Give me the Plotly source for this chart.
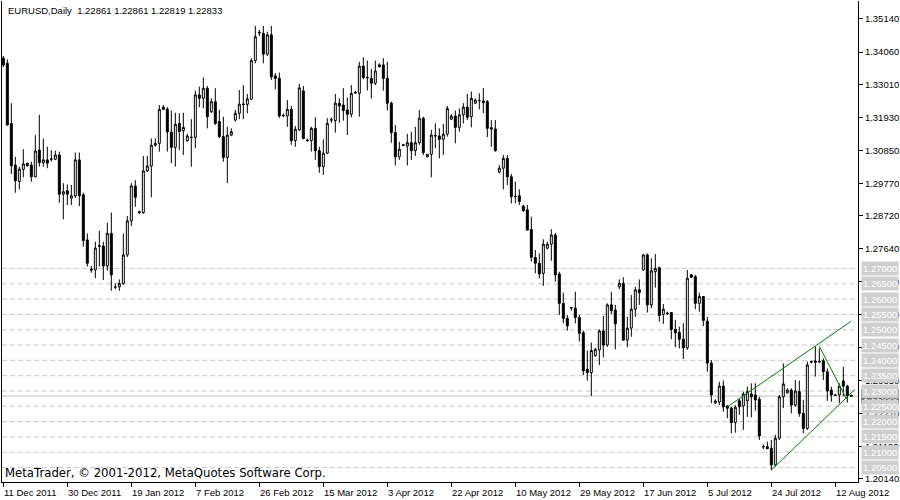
import pandas as pd
import plotly.graph_objects as go

# ---------------- data ----------------
header_text = "EURUSD,Daily  1.22861 1.22861 1.22819 1.22833"
copyright_text = "MetaTrader, \u00a9 2001-2012, MetaQuotes Software Corp."

first_day = "2011-12-11"
last_day = "2012-08-16"
closed_days = ["2011-12-25", "2012-01-01"]   # no bars on these days (Saturdays also absent)

open_ = [
    1.3386, 1.3369, 1.3173, 1.3037, 1.2983, 1.3023, 1.3043, 1.3037, 1.2999, 1.3086,
    1.3045, 1.3054, 1.3056, 1.3056, 1.3070, 1.2942, 1.2953, 1.2929, 1.2937, 1.3054,
    1.2940, 1.2793, 1.2697, 1.2695, 1.2772, 1.2773, 1.2708, 1.2814, 1.2638, 1.2640,
    1.2651, 1.2744, 1.2855, 1.2969, 1.2885, 1.2882, 1.3018, 1.3034, 1.3102, 1.3108,
    1.3226, 1.3219, 1.3145, 1.3095, 1.3173, 1.3149, 1.3117, 1.3128, 1.3128, 1.3266,
    1.3255, 1.3288, 1.3211, 1.3244, 1.3179, 1.3130, 1.3062, 1.3135, 1.3184, 1.3206,
    1.3236, 1.3235, 1.3252, 1.3378, 1.3468, 1.3467, 1.3399, 1.3462, 1.3328, 1.3320,
    1.3198, 1.3197, 1.3219, 1.3117, 1.3152, 1.3279, 1.3117, 1.3117, 1.3157, 1.3084,
    1.3032, 1.3076, 1.3184, 1.3182, 1.3239, 1.3233, 1.3217, 1.3203, 1.3272, 1.3271,
    1.3360, 1.3323, 1.3320, 1.3304, 1.3364, 1.3364, 1.3320, 1.3239, 1.3143, 1.3064,
    1.3103, 1.3099, 1.3110, 1.3084, 1.3110, 1.3190, 1.3064, 1.3072, 1.3132, 1.3132,
    1.3121, 1.3138, 1.3187, 1.3197, 1.3160, 1.3201, 1.3226, 1.3195, 1.3239, 1.3247,
    1.3246, 1.3244, 1.3159, 1.3155, 1.3014, 1.3027, 1.3059, 1.2999, 1.2934, 1.2937,
    1.2903, 1.2891, 1.2827, 1.2736, 1.2717, 1.2684, 1.2766, 1.2779, 1.2809, 1.2682,
    1.2586, 1.2537, 1.2572, 1.2570, 1.2540, 1.2490, 1.2371, 1.2360, 1.2415, 1.2434,
    1.2496, 1.2450, 1.2581, 1.2564, 1.2640, 1.2651, 1.2466, 1.2505, 1.2567, 1.2630,
    1.2695, 1.2744, 1.2581, 1.2689, 1.2702, 1.2550, 1.2554, 1.2556, 1.2501, 1.2491,
    1.2469, 1.2441, 1.2679, 1.2673, 1.2586, 1.2608, 1.2528, 1.2391, 1.2261, 1.2264,
    1.2316, 1.2251, 1.2244, 1.2197, 1.2268, 1.2251, 1.2268, 1.2290, 1.2287, 1.2273,
    1.2119, 1.2118, 1.2113, 1.2059, 1.2146, 1.2281, 1.2294, 1.2303, 1.2254, 1.2298,
    1.2227, 1.2178, 1.2396, 1.2398, 1.2396, 1.2399, 1.2363, 1.2303, 1.2287, 1.2287,
    1.2333, 1.2316, 1.22861,
]
high = [
    1.3393, 1.3382, 1.3239, 1.3064, 1.3032, 1.3089, 1.3045, 1.3048, 1.3135, 1.3201,
    1.3124, 1.3097, 1.3086, 1.3084, 1.3081, 1.2978, 1.2974, 1.2972, 1.3078, 1.3078,
    1.2947, 1.2814, 1.2708, 1.2787, 1.2823, 1.2787, 1.2849, 1.2882, 1.2651, 1.2664,
    1.2814, 1.2871, 1.2978, 1.2988, 1.2888, 1.3067, 1.3067, 1.3124, 1.3124, 1.3233,
    1.3233, 1.3226, 1.3215, 1.3208, 1.3206, 1.3208, 1.3139, 1.3187, 1.3280, 1.3293,
    1.3323, 1.3295, 1.3255, 1.3288, 1.3217, 1.3195, 1.3162, 1.3157, 1.3217, 1.3282,
    1.3298, 1.3269, 1.3386, 1.3491, 1.3478, 1.3491, 1.3472, 1.3491, 1.3337, 1.3339,
    1.3206, 1.3249, 1.3230, 1.3165, 1.3302, 1.3295, 1.3124, 1.3162, 1.3193, 1.3097,
    1.3121, 1.3190, 1.3193, 1.3269, 1.3255, 1.3288, 1.3258, 1.3298, 1.3280, 1.3374,
    1.3389, 1.3378, 1.3350, 1.3378, 1.3369, 1.3386, 1.3374, 1.3244, 1.3168, 1.3113,
    1.3106, 1.3139, 1.3146, 1.3162, 1.3217, 1.3195, 1.3074, 1.3152, 1.3173, 1.3157,
    1.3171, 1.3230, 1.3204, 1.3215, 1.3222, 1.3239, 1.3269, 1.3277, 1.3254, 1.3271,
    1.3288, 1.3249, 1.3184, 1.3184, 1.3037, 1.3070, 1.3070, 1.3008, 1.2983, 1.2958,
    1.2907, 1.2907, 1.2869, 1.2760, 1.2749, 1.2795, 1.2787, 1.2828, 1.2816, 1.2689,
    1.2621, 1.2548, 1.2573, 1.2624, 1.2548, 1.2497, 1.2432, 1.2458, 1.2441, 1.2501,
    1.2545, 1.2586, 1.2624, 1.2581, 1.2664, 1.2671, 1.2542, 1.2613, 1.2640, 1.2664,
    1.2747, 1.2749, 1.2733, 1.2747, 1.2706, 1.2584, 1.2559, 1.2557, 1.2532, 1.2510,
    1.2521, 1.2695, 1.2681, 1.2679, 1.2621, 1.2610, 1.2542, 1.2401, 1.2273, 1.2330,
    1.2334, 1.2254, 1.2249, 1.2254, 1.2276, 1.2298, 1.2314, 1.2325, 1.2325, 1.2281,
    1.2126, 1.2135, 1.2140, 1.2157, 1.2287, 1.2390, 1.2309, 1.2309, 1.2336, 1.2334,
    1.2271, 1.2396, 1.2399, 1.2445, 1.2439, 1.2407, 1.2374, 1.2314, 1.2291, 1.2325,
    1.2379, 1.2320, 1.22861,
]
low = [
    1.3357, 1.3165, 1.3008, 1.2947, 1.2958, 1.2997, 1.3032, 1.2983, 1.2997, 1.3032,
    1.3032, 1.3027, 1.3048, 1.3054, 1.2914, 1.2860, 1.2907, 1.2907, 1.2930, 1.2903,
    1.2771, 1.2706, 1.2686, 1.2668, 1.2706, 1.2662, 1.2693, 1.2627, 1.2632, 1.2627,
    1.2646, 1.2737, 1.2838, 1.2901, 1.2877, 1.2878, 1.3015, 1.2932, 1.3097, 1.3081,
    1.3217, 1.3081, 1.3043, 1.3032, 1.3086, 1.3070, 1.3113, 1.3032, 1.3092, 1.3226,
    1.3222, 1.3157, 1.3207, 1.3168, 1.3125, 1.3048, 1.2978, 1.3132, 1.3179, 1.3187,
    1.3187, 1.3206, 1.3249, 1.3369, 1.3458, 1.3369, 1.3393, 1.3315, 1.3284, 1.3191,
    1.3193, 1.3162, 1.3103, 1.3097, 1.3148, 1.3121, 1.3113, 1.3081, 1.3054, 1.3012,
    1.3005, 1.3073, 1.3175, 1.3143, 1.3175, 1.3182, 1.3135, 1.3193, 1.3269, 1.3195,
    1.3317, 1.3280, 1.3254, 1.3298, 1.3356, 1.3280, 1.3215, 1.3110, 1.3036, 1.3054,
    1.3099, 1.3036, 1.3054, 1.3067, 1.3103, 1.3070, 1.3062, 1.2997, 1.3092, 1.3059,
    1.3070, 1.3130, 1.3184, 1.3108, 1.3146, 1.3173, 1.3184, 1.3160, 1.3237, 1.3219,
    1.3206, 1.3128, 1.3097, 1.3081, 1.3010, 1.2958, 1.2972, 1.2912, 1.2912, 1.2907,
    1.2885, 1.2823, 1.2722, 1.2684, 1.2668, 1.2643, 1.2762, 1.2725, 1.2657, 1.2548,
    1.2521, 1.2497, 1.2562, 1.2521, 1.2461, 1.2352, 1.2334, 1.2284, 1.2412, 1.2385,
    1.2410, 1.2444, 1.2551, 1.2436, 1.2632, 1.2463, 1.2443, 1.2477, 1.2542, 1.2581,
    1.2693, 1.2556, 1.2570, 1.2637, 1.2526, 1.2519, 1.2548, 1.2469, 1.2443, 1.2439,
    1.2404, 1.2434, 1.2669, 1.2567, 1.2559, 1.2512, 1.2363, 1.2260, 1.2258, 1.2254,
    1.2232, 1.2211, 1.2162, 1.2164, 1.2222, 1.2173, 1.2216, 1.2214, 1.2236, 1.2140,
    1.2110, 1.2110, 1.2042, 1.2053, 1.2140, 1.2244, 1.2292, 1.2227, 1.2249, 1.2216,
    1.2162, 1.2173, 1.2390, 1.2347, 1.2392, 1.2336, 1.2268, 1.2265, 1.2283, 1.2260,
    1.2283, 1.2262, 1.22819,
]
close = [
    1.3364, 1.3168, 1.3035, 1.2986, 1.3024, 1.3041, 1.3035, 1.2999, 1.3083, 1.3045,
    1.3054, 1.3043, 1.3057, 1.3070, 1.2942, 1.2950, 1.2942, 1.2937, 1.3054, 1.2937,
    1.2791, 1.2717, 1.2695, 1.2766, 1.2774, 1.2708, 1.2814, 1.2679, 1.2639, 1.2651,
    1.2744, 1.2855, 1.2969, 1.2932, 1.2882, 1.3018, 1.3034, 1.3102, 1.3108, 1.3219,
    1.3219, 1.3145, 1.3095, 1.3170, 1.3146, 1.3160, 1.3132, 1.3127, 1.3266, 1.3255,
    1.3288, 1.3195, 1.3244, 1.3173, 1.3130, 1.3062, 1.3135, 1.3146, 1.3206, 1.3236,
    1.3235, 1.3253, 1.3378, 1.3456, 1.3470, 1.3399, 1.3462, 1.3325, 1.3320, 1.3197,
    1.3199, 1.3219, 1.3117, 1.3154, 1.3289, 1.3124, 1.3118, 1.3157, 1.3084, 1.3032,
    1.3076, 1.3173, 1.3185, 1.3239, 1.3230, 1.3215, 1.3203, 1.3271, 1.3274, 1.3360,
    1.3323, 1.3322, 1.3304, 1.3344, 1.3358, 1.3320, 1.3239, 1.3143, 1.3064, 1.3089,
    1.3102, 1.3110, 1.3084, 1.3110, 1.3190, 1.3078, 1.3072, 1.3135, 1.3133, 1.3121,
    1.3138, 1.3222, 1.3197, 1.3160, 1.3201, 1.3226, 1.3193, 1.3255, 1.3249, 1.3248,
    1.3241, 1.3157, 1.3155, 1.3084, 1.3027, 1.3059, 1.2999, 1.2934, 1.2935, 1.2918,
    1.2888, 1.2825, 1.2736, 1.2717, 1.2682, 1.2779, 1.2779, 1.2809, 1.2679, 1.2586,
    1.2537, 1.2513, 1.2571, 1.2540, 1.2488, 1.2366, 1.2360, 1.2432, 1.2436, 1.2496,
    1.2450, 1.2581, 1.2562, 1.2519, 1.2651, 1.2466, 1.2505, 1.2567, 1.2630, 1.2621,
    1.2744, 1.2581, 1.2692, 1.2700, 1.2546, 1.2567, 1.2553, 1.2501, 1.2490, 1.2469,
    1.2441, 1.2668, 1.2671, 1.2586, 1.2608, 1.2530, 1.2391, 1.2287, 1.2267, 1.2316,
    1.2248, 1.2244, 1.2197, 1.2247, 1.2249, 1.2290, 1.2298, 1.2281, 1.2271, 1.2153,
    1.2118, 1.2112, 1.2059, 1.2146, 1.2281, 1.2323, 1.2303, 1.2254, 1.2300, 1.2227,
    1.2178, 1.2385, 1.2395, 1.2394, 1.2395, 1.2363, 1.2300, 1.2287, 1.2286, 1.2316,
    1.2316, 1.2284, 1.22833,
]

# time-axis labels (every 16th bar in the reference)
time_label_dates = ["2011-12-11", "2011-12-30", "2012-01-19", "2012-02-07", "2012-02-26",
                    "2012-03-15", "2012-04-03", "2012-04-22", "2012-05-10", "2012-05-29",
                    "2012-06-17", "2012-07-05", "2012-07-24", "2012-08-12"]
time_labels = ["11 Dec 2011", "30 Dec 2011", "19 Jan 2012", "7 Feb 2012", "26 Feb 2012",
               "15 Mar 2012", "3 Apr 2012", "22 Apr 2012", "10 May 2012", "29 May 2012",
               "17 Jun 2012", "5 Jul 2012", "24 Jul 2012", "12 Aug 2012"]

# price scale labels
price_ticks = [1.35140, 1.34060, 1.33010, 1.31930, 1.30850, 1.29770, 1.28720, 1.27640,
               1.26560, 1.25480, 1.24430, 1.23350, 1.22270, 1.21190, 1.20140]

# horizontal dashed line objects (labelled on the price scale)
hline_levels = [1.270, 1.265, 1.260, 1.255, 1.250, 1.245, 1.240, 1.235,
                1.230, 1.225, 1.220, 1.215, 1.210, 1.205]
bid_price = 1.22833

# green trend line objects: (bar position, price) endpoints
trend_bar = [[181, 212.0], [192, 212.9], [204, 210.8]]
trend_price = [[1.2248, 1.2528], [1.2042, 1.2305], [1.2446, 1.2274]]

# visible price window
price_min, price_max = 1.20031, 1.35724

# ---------------- figure ----------------
all_days = pd.date_range(first_day, last_day, freq="D")
bar_dates = [d for d in all_days if d.weekday() != 5 and d.strftime("%Y-%m-%d") not in closed_days]
bar_key = [d.strftime("%Y-%m-%d") for d in bar_dates]
bar_pos = list(range(len(bar_dates)))
label_pos = [bar_key.index(d) for d in time_label_dates]

SMALL = dict(family="Liberation Sans, Arial, sans-serif", size=9.5, color="black")

fig = go.Figure()
fig.add_trace(go.Candlestick(
    x=bar_pos, open=open_, high=high, low=low, close=close,
    increasing=dict(line=dict(color="black", width=1), fillcolor="white"),
    decreasing=dict(line=dict(color="black", width=1), fillcolor="black"),
    whiskerwidth=0, hoverinfo="skip", showlegend=False,
))
for bx, by in zip(trend_bar, trend_price):
    fig.add_trace(go.Scatter(x=bx, y=by, mode="lines", line=dict(color="#008000", width=1),
                             hoverinfo="skip", showlegend=False))

shapes = []
for lv in hline_levels:
    shapes.append(dict(type="line", xref="paper", x0=0, x1=1, yref="y", y0=lv, y1=lv,
                       line=dict(color="#c8c8c8", width=1, dash="5px,3px"), layer="below"))
shapes.append(dict(type="line", xref="paper", x0=0, x1=1, yref="y", y0=bid_price, y1=bid_price,
                   line=dict(color="#c0c0c0", width=1), layer="below"))

annotations = []
annotations.append(dict(text=header_text, xref="paper", yref="paper", x=0, y=1,
                        xanchor="left", yanchor="top", xshift=4, yshift=-2,
                        showarrow=False, font=SMALL))
annotations.append(dict(text=copyright_text, xref="paper", yref="paper", x=0, y=0,
                        xanchor="left", yanchor="bottom", xshift=1, yshift=0,
                        showarrow=False,
                        font=dict(family="DejaVu Sans, Verdana, sans-serif", size=11.7, color="black")))
for pos, txt in zip(label_pos, time_labels):
    annotations.append(dict(text=txt, xref="x", yref="paper", x=pos, y=0,
                            xanchor="left", yanchor="top", xshift=-1, yshift=-3,
                            showarrow=False, font=SMALL))
# current price label
annotations.append(dict(text=f"{bid_price:.5f}", xref="paper", yref="y", x=1, y=bid_price,
                        xanchor="left", yanchor="middle", xshift=3, showarrow=False,
                        bgcolor="black", borderpad=1, font=dict(SMALL, color="white")))
for lv in hline_levels:
    annotations.append(dict(text=f"{lv:.5f}", xref="paper", yref="y", x=1, y=lv,
                            xanchor="left", yanchor="middle", xshift=3, showarrow=False,
                            bgcolor="#cfcfcf", borderpad=1, font=dict(SMALL, color="white")))

fig.update_layout(
    width=900, height=500,
    margin=dict(l=2, r=42, t=1, b=18),
    paper_bgcolor="white", plot_bgcolor="white",
    showlegend=False, hovermode=False,
    shapes=shapes, annotations=annotations,
    xaxis=dict(range=[-0.33, 213.67], rangeslider=dict(visible=False),
               tickmode="array", tickvals=label_pos, showticklabels=False,
               ticks="outside", ticklen=4, tickcolor="black",
               showline=True, linecolor="black", linewidth=1,
               showgrid=False, zeroline=False, fixedrange=True),
    yaxis=dict(side="right", range=[price_min, price_max],
               tickmode="array", tickvals=price_ticks,
               ticktext=[f"{v:.5f}" for v in price_ticks],
               ticks="outside", ticklen=4, tickcolor="black", tickfont=SMALL,
               showline=True, linecolor="black", linewidth=1, mirror=True,
               showgrid=False, zeroline=False, fixedrange=True),
)

fig.write_html("out.html", config={"displayModeBar": False},
               post_script="document.body.style.margin='0';")
